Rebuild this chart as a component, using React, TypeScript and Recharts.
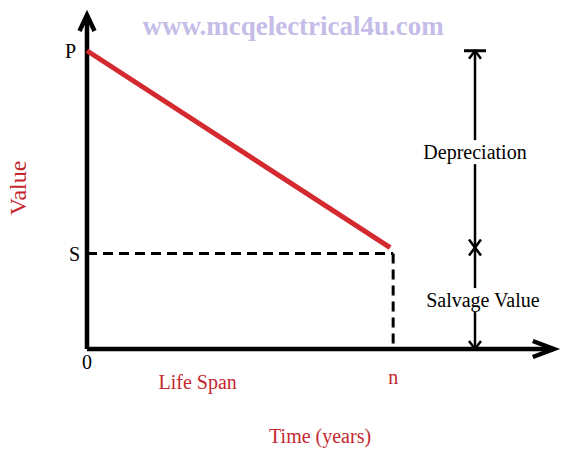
import React from 'react';
import { LineChart, Line, XAxis, YAxis, ReferenceLine, ReferenceDot } from 'recharts';

// values (x = years, y = book value as % of P)
const years = [0, 10];
const bookValues = [100, 34];
const purchaseValue = 100;
const salvageValue = 32;
const lifeEnd = 10.1;
const bracketYear = 12.8;
const axisTipX = 15.4;
const axisTipY = 112;

const yTicks = [salvageValue, purchaseValue];
const xTicks = [0, lifeEnd];

const rows = years.map((y, i) => ({ year: y, value: bookValues[i] }));

const SERIF = "'Liberation Serif', 'Times New Roman', serif";
const RED_LINE = '#d42a2f';
const RED_TEXT = '#c4282f';

type ArrowOpts = {
  width: number;
  startHead?: boolean;
  endHead?: boolean;
  endBar?: number;
  len?: number;
  half?: number;
};

const chevron = (tx: number, ty: number, dx: number, dy: number, len: number, half: number) => {
  const nx = -dy;
  const ny = dx;
  const ax = tx - dx * len + nx * half;
  const ay = ty - dy * len + ny * half;
  const bx = tx - dx * len - nx * half;
  const by = ty - dy * len - ny * half;
  return `M${ax},${ay} L${tx},${ty} L${bx},${by}`;
};

const arrowShape = (o: ArrowOpts) => (props: any) => {
  const { x1, y1, x2, y2 } = props;
  const d = Math.hypot(x2 - x1, y2 - y1) || 1;
  const ux = (x2 - x1) / d;
  const uy = (y2 - y1) / d;
  const len = o.len ?? 16;
  const half = o.half ?? 7;
  return (
    <g>
      <line x1={x1} y1={y1} x2={x2} y2={y2} stroke="#000" strokeWidth={o.width} />
      {o.endHead && (
        <path d={chevron(x2, y2, ux, uy, len, half)} fill="none" stroke="#000" strokeWidth={o.width} />
      )}
      {o.startHead && (
        <path d={chevron(x1, y1, -ux, -uy, len, half)} fill="none" stroke="#000" strokeWidth={o.width} />
      )}
      {o.endBar && (
        <line
          x1={x2 - uy * o.endBar}
          y1={y2 + ux * o.endBar}
          x2={x2 + uy * o.endBar}
          y2={y2 - ux * o.endBar}
          stroke="#000"
          strokeWidth={3}
        />
      )}
    </g>
  );
};

type TextOpts = {
  text: string;
  color: string;
  size: number;
  weight?: string;
  angle?: number;
  bg?: [number, number];
};

const textLabel = (t: TextOpts) => (props: any) => {
  const vb = props.viewBox || { x: 0, y: 0, width: 0, height: 0 };
  const cx = vb.x + (vb.width || 0) / 2;
  const cy = vb.y + (vb.height || 0) / 2;
  return (
    <g>
      {t.bg && (
        <rect x={cx - t.bg[0] / 2} y={cy - t.bg[1] / 2} width={t.bg[0]} height={t.bg[1]} fill="#fff" />
      )}
      <text
        x={cx}
        y={cy}
        dy="0.35em"
        textAnchor="middle"
        fill={t.color}
        fontSize={t.size}
        fontWeight={t.weight || 'normal'}
        fontFamily={SERIF}
        transform={t.angle ? `rotate(${t.angle} ${cx} ${cy})` : undefined}
      >
        {t.text}
      </text>
    </g>
  );
};

const labels: { x: number; y: number; opts: TextOpts }[] = [
  { x: 6.8, y: 108.3, opts: { text: 'www.mcqelectrical4u.com', color: '#c5bde8', size: 27, weight: 'bold' } },
  { x: -2.3, y: 54, opts: { text: 'Value', color: RED_TEXT, size: 24, angle: -90 } },
  { x: 3.65, y: -10.9, opts: { text: 'Life Span', color: RED_TEXT, size: 20 } },
  { x: 7.69, y: -29.2, opts: { text: 'Time (years)', color: RED_TEXT, size: 20 } },
  { x: bracketYear, y: 66, opts: { text: 'Depreciation', color: '#000', size: 20, bg: [110, 24] } },
  { x: 13.06, y: 16.4, opts: { text: 'Salvage Value', color: '#000', size: 20, bg: [120, 24] } },
];

const YTick = ({ x, y, payload }: any) => (
  <text
    x={x - (payload.value === purchaseValue ? 16.5 : 12.5)}
    y={y}
    dy="0.35em"
    textAnchor="middle"
    fontSize={20}
    fontFamily={SERIF}
    fill="#000"
  >
    {payload.value === purchaseValue ? 'P' : 'S'}
  </text>
);

const XTick = ({ x, y, payload }: any) => {
  const isZero = payload.value === 0;
  return (
    <text
      x={x}
      y={y + (isZero ? 12.5 : 28)}
      dy="0.35em"
      textAnchor="middle"
      fontSize={20}
      fontFamily={SERIF}
      fill={isZero ? '#000' : RED_TEXT}
    >
      {isZero ? '0' : 'n'}
    </text>
  );
};

export default function App() {
  return (
    <div style={{ position: 'absolute', left: 0, top: 0, background: '#fff' }}>
      <LineChart width={585} height={454} data={rows} margin={{ top: 6, right: 13, bottom: 0, left: 0 }}>
        <XAxis
          type="number"
          dataKey="year"
          domain={[0, 16]}
          ticks={xTicks}
          height={105}
          axisLine={false}
          tickLine={false}
          tickSize={0}
          tickMargin={0}
          tick={<XTick />}
        />
        <YAxis
          type="number"
          domain={[0, 115]}
          ticks={yTicks}
          width={87}
          axisLine={false}
          tickLine={false}
          tickSize={0}
          tickMargin={0}
          tick={<YTick />}
        />

        <ReferenceLine
          segment={[{ x: 0, y: salvageValue }, { x: lifeEnd, y: salvageValue }]}
          stroke="#000"
          strokeWidth={3}
          strokeDasharray="10 6"
        />
        <ReferenceLine
          segment={[{ x: lifeEnd, y: salvageValue }, { x: lifeEnd, y: 0 }]}
          stroke="#000"
          strokeWidth={3}
          strokeDasharray="10 6"
        />

        <ReferenceLine
          segment={[{ x: 0, y: 0 }, { x: 0, y: axisTipY }]}
          shape={arrowShape({ width: 4.5, endHead: true, len: 16, half: 7.5 })}
        />
        <ReferenceLine
          segment={[{ x: 0, y: 0 }, { x: axisTipX, y: 0 }]}
          shape={arrowShape({ width: 4.5, endHead: true, len: 21, half: 8 })}
        />

        <ReferenceLine
          segment={[{ x: bracketYear, y: bookValues[1] }, { x: bracketYear, y: purchaseValue }]}
          shape={arrowShape({ width: 2.5, startHead: true, endHead: true, endBar: 11, len: 8, half: 6 })}
        />
        <ReferenceLine
          segment={[{ x: bracketYear, y: bookValues[1] }, { x: bracketYear, y: 0 }]}
          shape={arrowShape({ width: 2.5, startHead: true, endHead: true, len: 8, half: 6 })}
        />

        <Line
          type="linear"
          dataKey="value"
          stroke={RED_LINE}
          strokeWidth={5}
          dot={false}
          activeDot={false}
          isAnimationActive={false}
        />

        {labels.map((l, i) => (
          <ReferenceDot
            key={i}
            x={l.x}
            y={l.y}
            r={0}
            fill="none"
            stroke="none"
            ifOverflow="visible"
            label={textLabel(l.opts)}
          />
        ))}
      </LineChart>
    </div>
  );
}
